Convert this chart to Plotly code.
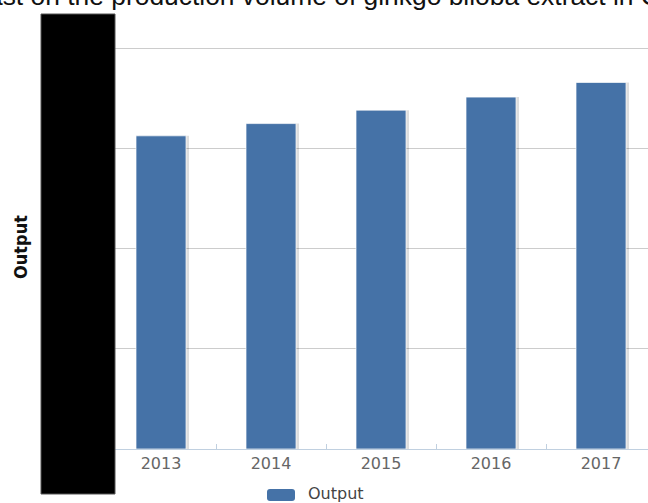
import plotly.graph_objects as go

# ---- data ----
years = ["2013", "2014", "2015", "2016", "2017"]
output_values = [1562, 1623, 1690, 1755, 1828]
series_name = "Output"
title_text = "ast on the production volume of ginkgo biloba extract in C"
y_title = "Output"

W, H = 648, 503
L, R, T, B = 106, 0, 40, 54
PW, PH = W - L - R, H - T - B
Y_MAX = 2000 * (449 - 40) / (449 - 48)


def px_x(px):
    return (px - L) / PW


def px_y(py):
    return (H - B - py) / PH


bar_w = 50 / 110
fig = go.Figure()

# soft shadow behind bars
fig.add_trace(go.Bar(
    x=years, y=output_values, width=bar_w, offset=-bar_w / 2 + 3 / 110,
    marker=dict(color="rgba(0,0,0,0.13)", line=dict(width=0)),
    hoverinfo="skip", showlegend=False,
))
fig.add_trace(go.Bar(
    x=years, y=output_values, name=series_name, width=bar_w, offset=-bar_w / 2,
    marker=dict(color="#4572A7", line=dict(color="rgba(255,255,255,0.7)", width=1)),
    showlegend=False,
))

fig.update_layout(
    width=W, height=H,
    margin=dict(l=L, r=R, t=T, b=B, pad=0),
    paper_bgcolor="white", plot_bgcolor="white",
    barmode="overlay",
    showlegend=False,
    font=dict(family="DejaVu Sans, sans-serif"),
)
fig.update_xaxes(
    type="category", range=[-0.5, -0.5 + PW / 110],
    showline=True, linecolor="#C0D0E0", linewidth=1,
    ticks="inside", tickson="boundaries", ticklen=5, tickcolor="#C0D0E0",
    showgrid=False,
    tickfont=dict(family="DejaVu Sans, sans-serif", size=16, color="#666666"),
)
fig.update_yaxes(
    range=[0, Y_MAX], tick0=0, dtick=500, showgrid=True, gridcolor="#CCCCCC", gridwidth=1,
    zeroline=False, showticklabels=False, ticks="",
)

# black redaction box
fig.add_shape(type="rect", xref="paper", yref="paper",
              x0=px_x(41), x1=px_x(115), y0=px_y(494), y1=px_y(14),
              fillcolor="black", line=dict(color="#555555", width=1), layer="above")

# title (clipped at the edges, as in the reference)
fig.add_annotation(text=title_text, xref="paper", yref="paper",
                   x=px_x(-14), y=px_y(-4), xanchor="left", yanchor="middle",
                   showarrow=False,
                   font=dict(family="Liberation Sans, Arial, sans-serif", size=26.4, color="#111111"))

# y-axis title
fig.add_annotation(text=y_title, xref="paper", yref="paper",
                   x=px_x(20), y=px_y(247), xanchor="center", yanchor="middle",
                   textangle=-90, showarrow=False,
                   font=dict(family="Liberation Sans Narrow, DejaVu Sans Condensed, sans-serif",
                             size=18, color="#111111", weight="bold"))

# legend (manual)
lx0, lx1, ly0, ly1 = 267, 295, 489, 501
rx, ry = 3 / PW, 3 / PH
x0, x1, y0, y1 = px_x(lx0), px_x(lx1), px_y(ly1), px_y(ly0)
path = (f"M{x0+rx},{y0} L{x1-rx},{y0} Q{x1},{y0} {x1},{y0+ry} L{x1},{y1-ry} "
        f"Q{x1},{y1} {x1-rx},{y1} L{x0+rx},{y1} Q{x0},{y1} {x0},{y1-ry} "
        f"L{x0},{y0+ry} Q{x0},{y0} {x0+rx},{y0} Z")
fig.add_shape(type="path", xref="paper", yref="paper", path=path,
              fillcolor="#4572A7", line=dict(width=0))
fig.add_annotation(text=series_name, xref="paper", yref="paper",
                   x=px_x(306), y=px_y(493), xanchor="left", yanchor="middle",
                   showarrow=False,
                   font=dict(family="DejaVu Sans, sans-serif", size=16, color="#444444"))

fig.write_html("out.html", config={"displayModeBar": False},
               post_script="document.body.style.margin='0px';document.body.style.overflow='hidden';")
